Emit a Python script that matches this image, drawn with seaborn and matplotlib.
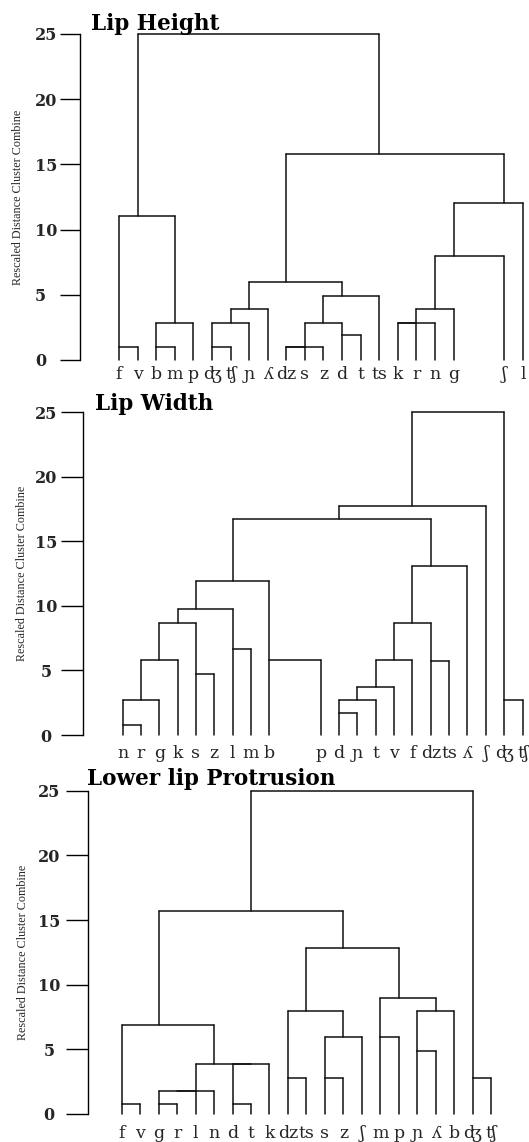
import math
import matplotlib
matplotlib.use("Agg")
import matplotlib.pyplot as plt
import pandas as pd
import seaborn as sns

# ---------------- data ----------------
titles = ["Lip Height", "Lip Width", "Lower lip Protrusion"]
y_ticks = [0, 5, 10, 15, 20, 25]
y_label = "Rescaled Distance Cluster Combine"

# merges: (child, child, rescaled distance); child < 21 -> leaf index, >= 21 -> earlier merge
height_leaves = ["f", "v", "b", "m", "p", "ʤ", "ʧ", "ɲ", "ʎ", "dz", "s",
                 "z", "d", "t", "ts", "k", "r", "n", "g", "ʃ", "l"]
height_merges = [
    (0, 1, 1.0), (2, 3, 1.0), (22, 4, 2.85), (21, 23, 11.0),
    (5, 6, 1.0), (25, 7, 2.85), (26, 8, 3.9),
    (9, 10, 1.0), (28, 11, 1.0), (12, 13, 1.95), (29, 30, 2.85), (31, 14, 4.9),
    (27, 32, 5.95),
    (15, 16, 2.85), (34, 17, 2.85), (35, 18, 3.9), (36, 19, 8.0), (37, 20, 12.0),
    (33, 38, 15.8), (24, 39, 25.0),
]

width_leaves = ["n", "r", "g", "k", "s", "z", "l", "m", "b", "p", "d",
                "ɲ", "t", "v", "f", "dz", "ts", "ʎ", "ʃ", "ʤ", "ʧ"]
width_merges = [
    (0, 1, 0.76), (21, 2, 2.69), (22, 3, 5.78), (4, 5, 4.74), (23, 24, 8.71),
    (6, 7, 6.67), (25, 26, 9.77), (8, 9, 5.78), (27, 28, 11.94),
    (10, 11, 1.67), (30, 12, 2.75), (31, 13, 3.74), (32, 14, 5.78),
    (15, 16, 5.73), (33, 34, 8.71), (35, 17, 13.12),
    (29, 36, 16.73), (37, 18, 17.72), (19, 20, 2.75), (38, 39, 25.0),
]

protrusion_leaves = ["f", "v", "g", "r", "l", "n", "d", "t", "k", "dz", "ts",
                     "s", "z", "ʃ", "m", "p", "ɲ", "ʎ", "b", "ʤ", "ʧ"]
protrusion_merges = [
    (0, 1, 0.8), (2, 3, 0.8), (22, 4, 1.8), (23, 5, 1.8),
    (6, 7, 0.8), (25, 8, 3.85), (24, 26, 3.85), (21, 27, 6.85),
    (9, 10, 2.8), (11, 12, 2.8), (30, 13, 5.95), (29, 31, 7.95),
    (14, 15, 5.95), (16, 17, 4.9), (34, 18, 7.95), (33, 35, 8.95),
    (32, 36, 12.85), (28, 37, 15.7), (19, 20, 2.8), (38, 39, 25.0),
]

panels = [(height_leaves, height_merges),
          (width_leaves, width_merges),
          (protrusion_leaves, protrusion_merges)]

# ---------------- layout (pixels) ----------------
W, H = 529, 1142
layouts = [
    dict(spine=79.5, y0=360.0, y25=33.8, slot0=119.1, step=18.58, gap_after=18, gap=1.73,
         title_x=91.4, title_base=29.8, ylab_x=18.0, tick_len=20, tick_ha="left",
         tick_anchor=35.0, leaf_base=379.0),
    dict(spine=82.9, y0=735.0, y25=412.3, slot0=122.5, step=18.35, gap_after=8, gap=1.8,
         title_x=94.8, title_base=410.0, ylab_x=22.0, tick_len=22, tick_ha="center",
         tick_anchor=46.0, leaf_base=758.0),
    dict(spine=88.0, y0=1114.0, y25=790.8, slot0=121.8, step=18.46, gap_after=None, gap=0.0,
         title_x=87.0, title_base=785.0, ylab_x=23.5, tick_len=22, tick_ha="center",
         tick_anchor=49.0, leaf_base=1138.0),
]

sns.set_theme(style="ticks")
plt.rcParams["font.family"] = ["DejaVu Serif", "DejaVu Sans"]
PT = 0.72  # points per pixel at dpi 100


def tree_segments(leaves, merges):
    n = len(leaves)
    slot = list(range(n))
    height = [0.0] * n
    segs = []
    for a, b, h in merges:
        for c in (a, b):
            segs.append(((slot[c], height[c]), (slot[c], h)))
        segs.append(((slot[a], h), (slot[b], h)))
        slot.append(math.floor((slot[a] + slot[b]) / 2))
        height.append(h)
    return segs


fig = plt.figure(figsize=(W / 100, H / 100), dpi=100)
fig.patch.set_facecolor("white")

for (leaves, merges), title, L in zip(panels, titles, layouts):
    def pos(s, L=L):
        if L["gap_after"] is not None and s > L["gap_after"]:
            return s + L["gap"]
        return s

    ax = fig.add_axes([L["spine"] / W, 1 - L["y0"] / H,
                       (W - L["spine"]) / W, (L["y0"] - L["y25"]) / H])
    rows = []
    for k, (p0, p1) in enumerate(tree_segments(leaves, merges)):
        rows.append({"seg": k, "x": pos(p0[0]), "y": p0[1]})
        rows.append({"seg": k, "x": pos(p1[0]), "y": p1[1]})
    df = pd.DataFrame(rows)
    sns.lineplot(data=df, x="x", y="y", units="seg", estimator=None, sort=False,
                 color="#111111", linewidth=1.1, ax=ax, legend=False)
    for ln in ax.lines:
        ln.set_clip_on(False)

    ax.set_xlim((L["spine"] - L["slot0"]) / L["step"], (W - L["slot0"]) / L["step"])
    ax.set_ylim(0, 25)
    ax.set_facecolor("white")

    # leaf labels
    ax.set_xticks([pos(i) for i in range(len(leaves))])
    ax.set_xticklabels(leaves)
    ax.tick_params(axis="x", length=0, pad=(L["leaf_base"] - L["y0"]) * PT, labelsize=12.5)
    for lbl in ax.get_xticklabels():
        lbl.set_va("baseline")
    ax.set_xlabel("")

    # y axis
    ax.set_yticks(y_ticks)
    ax.set_yticklabels([str(t) for t in y_ticks])
    ax.tick_params(axis="y", length=L["tick_len"] * PT, width=1.0, color="black",
                   pad=(L["spine"] - L["tick_len"] - L["tick_anchor"]) * PT, labelsize=11.5)
    for lbl in ax.get_yticklabels():
        lbl.set_fontweight("bold")
        lbl.set_ha(L["tick_ha"])
    sns.despine(ax=ax, top=True, right=True, bottom=True)
    ax.spines["left"].set_color("black")
    ax.spines["left"].set_linewidth(1.0)

    ax.set_ylabel(y_label, fontsize=8.7, family=["Liberation Serif", "DejaVu Serif"],
                  va="center")
    ax.yaxis.set_label_coords((L["ylab_x"] - L["spine"]) / (W - L["spine"]), 0.5)

    ax.text((L["title_x"] - L["spine"]) / (W - L["spine"]),
            1 + (L["y25"] - L["title_base"]) / (L["y0"] - L["y25"]),
            title, transform=ax.transAxes, ha="left", va="baseline",
            fontsize=15.5, fontweight="bold", color="black")

fig.savefig("out.png", dpi=100, facecolor="white")
